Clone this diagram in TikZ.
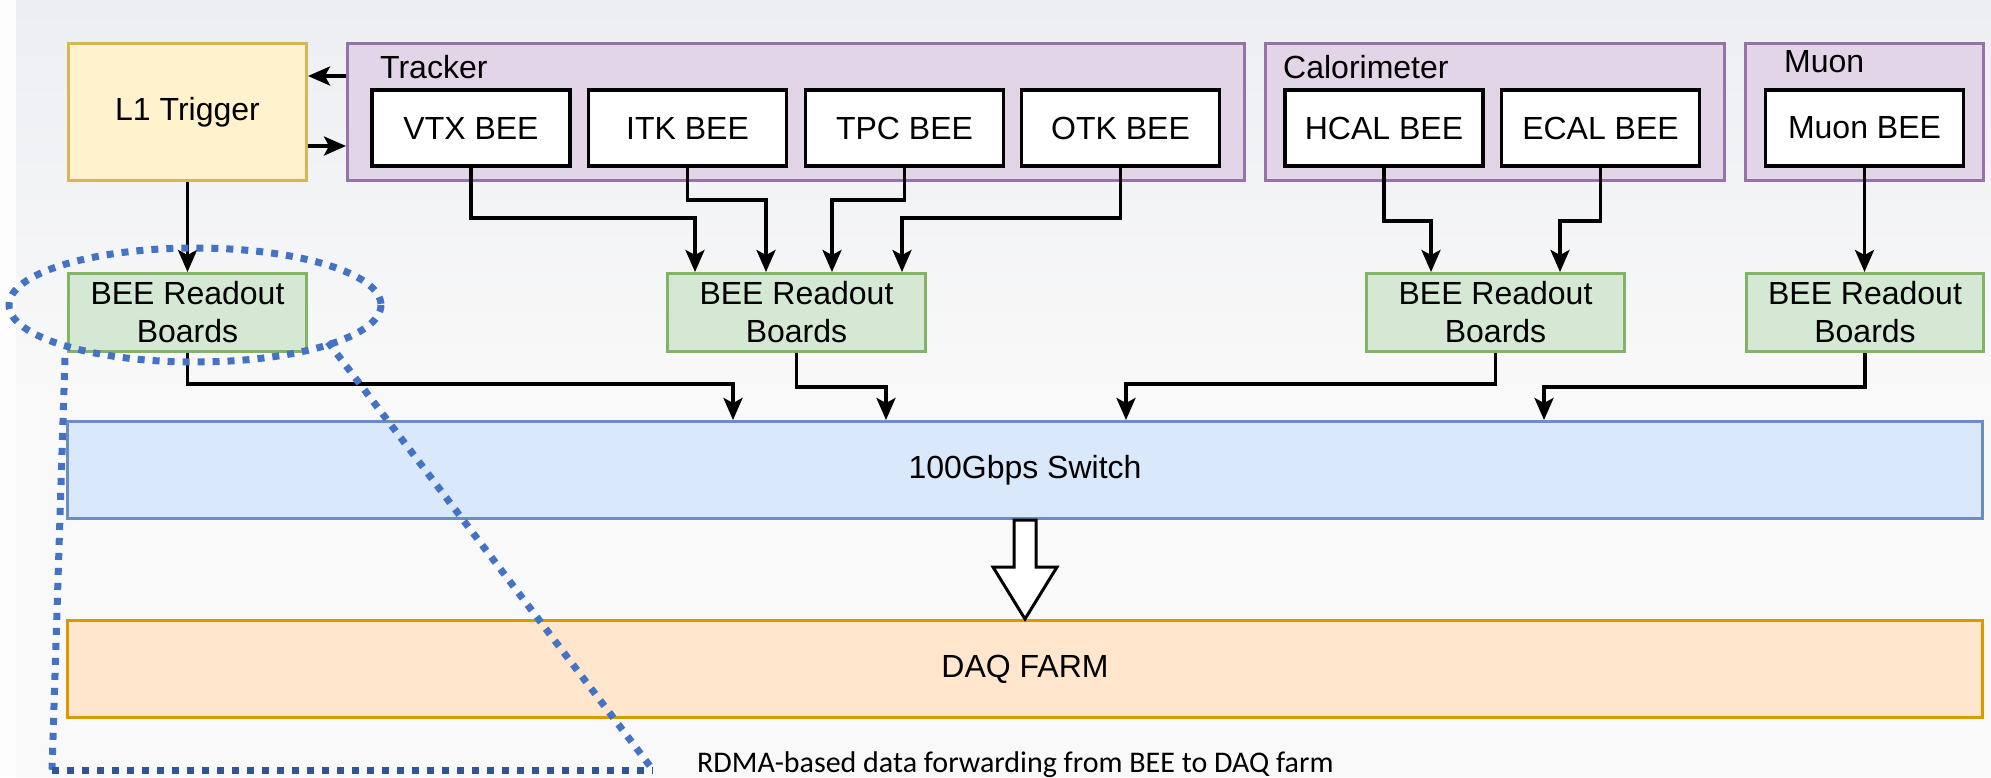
\documentclass[tikz,border=0pt]{standalone}
\usepackage{fontspec}
\setmainfont{Liberation Sans}
\newfontfamily\capfont{Carlito}
\usetikzlibrary{arrows.meta,calc}
\definecolor{bgtop}{HTML}{ECEEF2}
\definecolor{bgbot}{HTML}{F9F9F9}
\definecolor{ylwfill}{HTML}{FFF2CC}
\definecolor{ylwline}{HTML}{D6B656}
\definecolor{purfill}{HTML}{E1D5E7}
\definecolor{purline}{HTML}{9673A6}
\definecolor{grnfill}{HTML}{D5E8D4}
\definecolor{grnline}{HTML}{82B366}
\definecolor{blufill}{HTML}{DAE8FC}
\definecolor{bluline}{HTML}{6C8EBF}
\definecolor{orgfill}{HTML}{FFE6CC}
\definecolor{orgline}{HTML}{D79B00}
\definecolor{dotblue}{HTML}{4472C4}
\definecolor{dotdark}{HTML}{2F5597}
\begin{document}
\begin{tikzpicture}[x=1pt,y=-1pt,
  txt/.style={font=\fontsize{32}{38}\selectfont, inner sep=0pt, align=center},
  grp/.style={draw=purline, fill=purfill, line width=3pt, minimum height=137pt, inner sep=0pt},
  grplabel/.style={font=\fontsize{32}{38}\selectfont, inner sep=0pt, anchor=base west},
  bee/.style={txt, draw=black, fill=white, line width=3.5pt, minimum width=198pt, minimum height=76pt},
  board/.style={txt, draw=grnline, fill=grnfill, line width=3pt, minimum height=78pt},
  trig/.style={txt, draw=ylwline, fill=ylwfill, line width=3pt, minimum width=238pt, minimum height=137pt},
  bar/.style={txt, line width=3pt, minimum width=1915pt, minimum height=97pt},
  conn/.style={draw=black, line width=3.5pt, -{Stealth[length=22pt,width=19pt,inset=5pt]}},
  dotline/.style={draw=dotblue, line width=7pt, dash pattern=on 7pt off 8pt}
]
\useasboundingbox (0,0) rectangle (1991,777);
% background
\fill[top color=bgtop, bottom color=bgbot] (0,0) rectangle (1991,400);
\fill[bgbot] (0,399) rectangle (1991,777);
\fill[white!60!bgbot] (0,0) rectangle (16,777);

% groups
\node[grp, minimum width=897pt] (tracker) at (796,112) {};
\node[grp, minimum width=459pt] (calo) at (1495,112) {};
\node[grp, minimum width=238pt] (muon) at (1864.5,112) {};
\node[grplabel] (trlab) at (380,78) {Tracker};
\node[grplabel] (calab) at (1283,78) {Calorimeter};
\node[grplabel] (mulab) at (1784,72) {Muon};

% L1 trigger
\node[trig] (l1) at (187.5,112) {L1 Trigger};

% BEE boxes
\node[bee] (vtx) at (471,128) {VTX BEE};
\node[bee] (itk) at (687.5,128) {ITK BEE};
\node[bee] (tpc) at (904.5,128) {TPC BEE};
\node[bee] (otk) at (1120.5,128) {OTK BEE};
\node[bee] (hcal) at (1384,128) {HCAL BEE};
\node[bee] (ecal) at (1600.5,128) {ECAL BEE};
\node[bee] (mbee) at (1864.5,128) {Muon BEE};

% readout boards
\node[board, minimum width=238pt] (b1) at (187.5,312.5) {BEE Readout\\Boards};
\node[board, minimum width=258pt] (b2) at (796.5,312.5) {BEE Readout\\Boards};
\node[board, minimum width=258pt] (b3) at (1495.5,312.5) {BEE Readout\\Boards};
\node[board, minimum width=237pt] (b4) at (1865,312.5) {BEE Readout\\Boards};

% switch and farm
\node[bar, draw=bluline, fill=blufill] (sw) at (1025,470) {100Gbps Switch};
\node[bar, draw=orgline, fill=orgfill] (daq) at (1025,669) {DAQ FARM};

% trigger links
\draw[conn] (tracker.west |- 0,76) -- (l1.east |- 0,76);
\draw[conn] (l1.east |- 0,146) -- (tracker.west |- 0,146);
\draw[conn] (l1.south) -- (b1.north);

% detector to boards
\draw[conn] (vtx.south) |- (695,218) -- (695,218 |- b2.north);
\draw[conn] (itk.south) |- (766,200) -- (766,200 |- b2.north);
\draw[conn] (tpc.south) |- (832,200) -- (832,200 |- b2.north);
\draw[conn] (otk.south) |- (902,218) -- (902,218 |- b2.north);
\draw[conn] (hcal.south) |- (1431,221) -- (1431,221 |- b3.north);
\draw[conn] (ecal.south) |- (1560,221) -- (1560,221 |- b3.north);
\draw[conn] (mbee.south) -- (mbee.south |- b4.north);

% boards to switch
\draw[conn] (b1.south) |- (733,384) -- (733,384 |- sw.north);
\draw[conn] (b2.south) |- (886,387) -- (886,387 |- sw.north);
\draw[conn] (b3.south) |- (1126,384) -- (1126,384 |- sw.north);
\draw[conn] (b4.south) |- (1544,387) -- (1544,387 |- sw.north);

% big hollow arrow
\draw[line width=3pt, fill=white, line join=miter]
  ($(sw.south)+(-11,0)$) -- ($(sw.south)+(11,0)$) -- (1036,567) -- (1057,567)
  -- (daq.north) -- (993,567) -- (1014,567) -- cycle;

% caption
\node[anchor=base west, inner sep=0pt, font=\capfont\fontsize{30}{36}\selectfont] (cap) at (697,772)
  {RDMA-based data forwarding from BEE to DAQ farm};

% dotted callout
\coordinate (e1) at (65,358);
\coordinate (e2) at (328,342);
\coordinate (c1) at (52,770);
\coordinate (c2) at (653,770);
\draw[dotline] (195,305) ellipse [x radius=186, y radius=57];
\draw[dotline] (e1) -- (c1);
\draw[dotline] (e2) -- (c2);
\draw[dotline, draw=dotdark] (c1) -- (c2);
\end{tikzpicture}
\end{document}
